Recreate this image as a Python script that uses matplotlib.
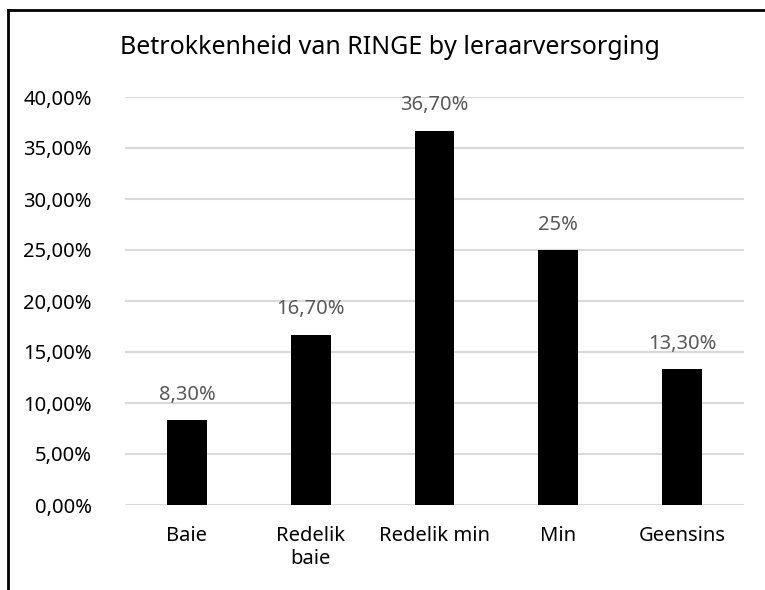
import matplotlib.pyplot as plt
from matplotlib.ticker import FuncFormatter
from matplotlib.lines import Line2D

plt.rcParams['font.family'] = ['Noto Sans', 'DejaVu Sans']

# data
categories = ['Baie', 'Redelik\nbaie', 'Redelik min', 'Min', 'Geensins']
values = [8.3, 16.7, 36.7, 25.0, 13.3]
value_labels = ['8,30%', '16,70%', '36,70%', '25%', '13,30%']
yticks = [0, 5, 10, 15, 20, 25, 30, 35, 40]

fig = plt.figure(figsize=(7.65, 5.9), dpi=100)
ax = fig.add_axes([125 / 765, 1 - 505 / 590, 619 / 765, 408 / 590])

x = range(len(categories))
bars = ax.bar(x, values, width=0.32, color='black', zorder=3)

for bar, lab in zip(bars, value_labels):
    ax.annotate(lab, (bar.get_x() + bar.get_width() / 2, bar.get_height()),
                xytext=(0, 11), textcoords='offset points',
                ha='center', va='bottom', fontsize=14.5, color='#595959')

ax.set_xlim(-0.5, len(categories) - 0.5)
ax.set_ylim(0, 40)
ax.set_yticks(yticks)
ax.yaxis.set_major_formatter(FuncFormatter(lambda v, p: f'{v:.2f}%'.replace('.', ',')))
ax.set_xticks(list(x))
ax.set_xticklabels(categories, fontsize=14.5, linespacing=1.2)
ax.tick_params(axis='y', labelsize=14.5, length=0, pad=24)
ax.tick_params(axis='x', length=0, pad=15)
ax.grid(axis='y', color='#d9d9d9', linewidth=1.5, zorder=0)
for s in ax.spines.values():
    s.set_visible(False)

fig.text(390 / 765, 1 - 48 / 590, 'Betrokkenheid van RINGE by leraarversorging',
         ha='center', va='center', fontsize=18)

# border lines (left and top)
fig.add_artist(Line2D([7.5 / 765, 7.5 / 765], [0, 1 - 9.5 / 590], color='black', linewidth=2,
                      transform=fig.transFigure))
fig.add_artist(Line2D([7.5 / 765, 1], [1 - 9.5 / 590, 1 - 9.5 / 590], color='black', linewidth=2,
                      transform=fig.transFigure))

fig.savefig('out.png', dpi=100)
